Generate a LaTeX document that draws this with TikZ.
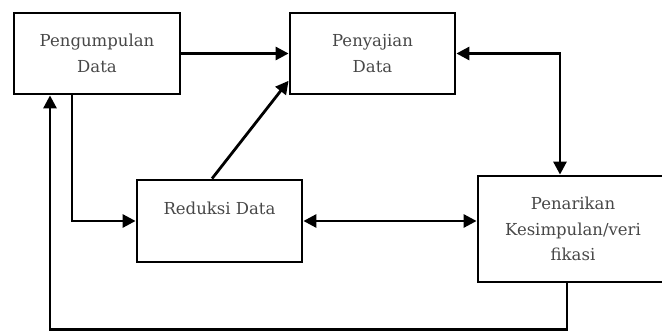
\documentclass[tikz,border=0pt]{standalone}
\usepackage{fontspec}
\setmainfont{DejaVu Serif}
\usetikzlibrary{positioning,arrows.meta}

\begin{document}
\begin{tikzpicture}[x=1pt, y=-1pt,
      box/.style={draw, line width=2.8pt, align=center, text=black!72,
                  font=\fontsize{16.5}{25.5}\selectfont},         % one box per stage
      arr/.style={line width=2.8pt, -{Triangle[length=13pt,width=13pt]}},   % one-way arrow
      darr/.style={line width=2.8pt, {Triangle[length=13pt,width=13pt]}-{Triangle[length=13pt,width=13pt]}}]  % two-way arrow
    \useasboundingbox (0,0) rectangle (662,331);
    \node[box, minimum width=166pt, minimum height=81pt]  (kumpul)  at (97,53.5)   {Pengumpulan\\Data};
    \node[box, minimum width=165pt, minimum height=81pt]  (saji)    at (372.5,53.5) {Penyajian\\Data};
    \node[box, minimum width=165pt, minimum height=82pt]  (reduksi) at (219.5,221) {Reduksi Data\\~};
    \node[box, minimum width=190pt, minimum height=106pt] (tarik)   at (573,229)   {Penarikan\\Kesimpulan/veri\\fikasi};
    \draw[arr]  (kumpul.east) -- (saji.west);
    \draw[arr]  (reduksi.100) -- (saji.198);
    \draw[darr] (saji.east) -| ([xshift=-13pt]tarik.north);
    \draw[arr]  ([xshift=-25pt]kumpul.south) |- (reduksi.west);
    \draw[darr] (reduksi.east) -- (reduksi.east -| tarik.west);
    \draw[arr]  ([xshift=-6pt]tarik.south) -- ++(0,46) -| ([xshift=-47pt]kumpul.south);  % back to the start
  \end{tikzpicture}
\end{document}
